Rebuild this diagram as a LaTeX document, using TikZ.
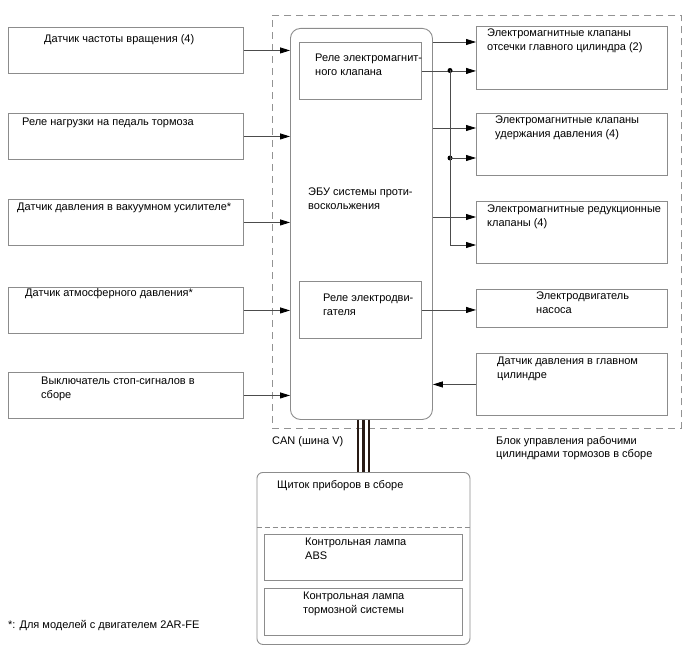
\documentclass[tikz,border=0pt]{standalone}
\usepackage{fontspec}
\setmainfont{Liberation Sans}
\usetikzlibrary{arrows.meta,calc,positioning}
\definecolor{boxgray}{gray}{0.55}
\definecolor{wiregray}{gray}{0.3}
\definecolor{canbrown}{RGB}{40,26,20}

\begin{document}
\begin{tikzpicture}[x=1pt,y=-1pt,
  box/.style={draw=boxgray, line width=0.9pt, anchor=north west, inner sep=0pt},
  txt/.style={anchor=north west, inner sep=0pt, align=left, font=\fontsize{11}{13.5}\selectfont},
  wire/.style={draw=wiregray, line width=0.8pt},
  arr/.style={wire, -{Triangle[length=10pt,width=6pt,color=black]}},
  dot/.style={circle, fill=black, inner sep=0pt, minimum size=5pt},
  can/.style={draw=canbrown, line width=2.6pt},
  blockline/.style={draw=gray!85, line width=0.8pt, dash pattern=on 7pt off 5pt}]
\useasboundingbox (0,0) rectangle (688,658);

% outer unit
\node[box, blockline, minimum width=409, minimum height=413] (blk) at (272,15) {};

% inputs
\node[box, minimum width=235, minimum height=46] (s1) at (8,27) {};
\node[box, minimum width=235, minimum height=46] (s2) at (8,113) {};
\node[box, minimum width=235, minimum height=46] (s3) at (8,199) {};
\node[box, minimum width=235, minimum height=46] (s4) at (8,287) {};
\node[box, minimum width=235, minimum height=46] (s5) at (8,372) {};
\node[txt] (s1t) at (44,34) {Датчик частоты вращения (4)};
\node[txt] (s2t) at (22,118) {Реле нагрузки на педаль тормоза};
\node[txt] (s3t) at (17,203) {Датчик давления в вакуумном усилителе*};
\node[txt] (s4t) at (25,288) {Датчик атмосферного давления*};
\node[txt] (s5t) at (41,377) {Выключатель стоп-сигналов в\\сборе};

% ECU
\node[box, rounded corners=10pt, minimum width=142, minimum height=391] (ecu) at (290,28) {};
\node[box, minimum width=122, minimum height=57] (rel1) at (299,42) {};
\node[box, minimum width=122, minimum height=57] (rel2) at (299,281) {};
\node[txt] (rel1t) at (315,54) {Реле электромагнит-\\ного клапана};
\node[txt] (ecut) at (308,188) {ЭБУ системы проти-\\воскольжения};
\node[txt] (rel2t) at (323,294) {Реле электродви-\\гателя};

% outputs
\node[box, minimum width=191, minimum height=63] (r1) at (476,26) {};
\node[box, minimum width=191, minimum height=62] (r2) at (476,113) {};
\node[box, minimum width=191, minimum height=62] (r3) at (476,201) {};
\node[box, minimum width=191, minimum height=38] (r4) at (476,289) {};
\node[box, minimum width=191, minimum height=62] (r5) at (476,353) {};
\node[txt] (r1t) at (487,29) {Электромагнитные клапаны\\отсечки главного цилиндра (2)};
\node[txt] (r2t) at (495,116) {Электромагнитные клапаны\\удержания давления (4)};
\node[txt] (r3t) at (487,205) {Электромагнитные редукционные\\клапаны (4)};
\node[txt] (r4t) at (536,292) {Электродвигатель\\насоса};
\node[txt] (r5t) at (497,357) {Датчик давления в главном\\цилиндре};

\node[txt] (cant) at (272,436) {CAN (шина V)};
\node[txt] (blkt) at (496,436) {Блок управления рабочими\\цилиндрами тормозов в сборе};

% combination meter
\node[box, rounded corners=6pt, minimum width=213, minimum height=172] (ipc) at (256.5,472) {};
\node[box, minimum width=198, minimum height=46] (lamp1) at (264,534) {};
\node[box, minimum width=198, minimum height=47] (lamp2) at (264,588) {};
\draw[boxgray, line width=0.8pt, dash pattern=on 5pt off 3pt] (ipc.west |- 0,527) -- (ipc.east |- 0,527);
\node[txt] (ipct) at (277,480) {Щиток приборов в сборе};
\node[txt] (lamp1t) at (305,538) {Контрольная лампа\\ABS};
\node[txt] (lamp2t) at (303,592) {Контрольная лампа\\тормозной системы};

\node[txt] (note) at (8,620) {*: Для моделей с двигателем 2AR-FE};

% connectors
\foreach \s in {s1,s2,s3,s4,s5}
  \draw[arr] (\s.east) -- (\s.east -| ecu.west);
\draw[arr] (ecu.east |- 0,42) -- (r1.west |- 0,42);
\draw[arr] (ecu.east |- 0,128) -- (r2.west |- 0,128);
\draw[arr] (ecu.east |- 0,217) -- (r3.west |- 0,217);
\draw[arr] (rel1.east) -- (rel1.east -| r1.west);
\node[dot] (j1) at (450,70.5) {};
\node[dot] (j2) at (450,158) {};
\coordinate (j3) at (450,245);
\draw[wire] (j1.center) -- (j3);
\draw[arr] (j2.center) -- (j2.center -| r2.west);
\draw[arr] (j3) -- (j3 -| r3.west);
\draw[arr] (rel2.east) -- (rel2.east -| r4.west);
\draw[arr] (r5.west) -- (r5.west -| ecu.east);
\foreach \dx in {-5.5,0,5.5}
  \draw[can] ($(ipc.north |- ecu.south)+(\dx,0)$) -- ($(ipc.north)+(\dx,0)$);
\end{tikzpicture}
\end{document}
